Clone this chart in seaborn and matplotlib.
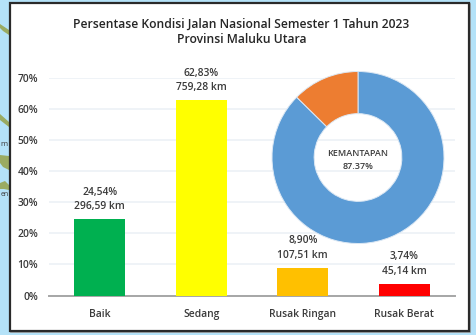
import matplotlib
matplotlib.use("Agg")
import matplotlib.pyplot as plt
from matplotlib.patches import Rectangle, Polygon
import seaborn as sns
import pandas as pd

categories = ["Baik", "Sedang", "Rusak Ringan", "Rusak Berat"]
percent = [24.54, 62.83, 8.90, 3.74]
percent_labels = ["24,54%", "62,83%", "8,90%", "3,74%"]
km_labels = ["296,59 km", "759,28 km", "107,51 km", "45,14 km"]
bar_colors = ["#00B050", "#FFFF00", "#FFC000", "#FF0000"]
donut_values = [87.37, 12.63]
donut_colors = ["#5B9BD5", "#ED7D31"]
donut_text = "KEMANTAPAN\n87.37%"
title = "Persentase Kondisi Jalan Nasional Semester 1 Tahun 2023\nProvinsi Maluku Utara"
yticks = [0, 10, 20, 30, 40, 50, 60, 70]

W, H = 476, 335
sns.set_theme(style="white")
plt.rcParams['font.family'] = ['Open Sans', 'DejaVu Sans']
TXT = "#3a3a3a"

fig = plt.figure(figsize=(W / 100, H / 100), dpi=100, facecolor="#B4E2F8")

# background map fragments at the left edge (pixel outlines of the decoration)
land = [
    [(0, 24), (9, 30), (9, 35), (3, 31), (0, 28)],
    [(0, 114), (9, 122), (9, 127), (0, 120)],
    [(0, 155), (9, 156), (9, 170), (3, 167), (0, 163)],
    [(0, 183), (5, 181), (9, 185), (9, 190), (4, 189), (0, 189)],
]
for pts in land:
    fig.add_artist(Polygon([(x / W, 1 - y / H) for x, y in pts], closed=True,
                           transform=fig.transFigure, facecolor="#9AAB62",
                           edgecolor="none", zorder=-3))
fig.text(0.6 / W, 1 - 144 / H, "m", ha="left", va="center", fontsize=5.5, color=TXT, zorder=-2)
fig.text(0.6 / W, 1 - 194 / H, "en", ha="left", va="center", fontsize=5, color=TXT, zorder=-2)

fig.add_artist(Rectangle((10.5 / W, 1 - 332 / H), 459 / W, 328 / H, transform=fig.transFigure,
                         facecolor="#8a8a8a", edgecolor="#9a9a9a", linewidth=1.2, zorder=-1.5))
fig.add_artist(Rectangle((9.5 / W, 1 - 331 / H), 459 / W, 328 / H, transform=fig.transFigure,
                         facecolor="white", edgecolor="#2a2a2a", linewidth=1.6, zorder=-1))
fig.text(241.5 / W, 1 - 32 / H, title, ha="center", va="center", fontsize=8.75,
         fontweight="semibold", color="#262626", linespacing=1.22)

ax = fig.add_axes([49 / W, 1 - 295.5 / H, 406 / W, 217.5 / H])
ax.patch.set_alpha(0)
df = pd.DataFrame({"cat": categories, "pct": percent})
sns.barplot(data=df, x="cat", y="pct", hue="cat", palette=bar_colors, order=categories,
            hue_order=categories, legend=False, width=0.5, saturation=1, linewidth=0,
            ax=ax, zorder=3)
ax.set_xlim(-0.5, 3.5)
ax.set_ylim(0, 70)
ax.set_yticks(yticks, [f"{v}%" for v in yticks])
ax.set_xlabel("")
ax.set_ylabel("")
ax.grid(axis="y", color="#EEF2F7", linewidth=1.3, zorder=0)
ax.set_axisbelow(True)
for s in ["top", "right", "left"]:
    ax.spines[s].set_visible(False)
ax.spines["bottom"].set_color("#A6A6A6")
ax.spines["bottom"].set_linewidth(1.4)
ax.tick_params(axis="both", length=0, labelsize=7.4, labelcolor=TXT)
ax.tick_params(axis="x", pad=9.5)
ax.tick_params(axis="y", pad=8)
for lab in ax.get_xticklabels() + ax.get_yticklabels():
    lab.set_fontweight("semibold")
for i, v in enumerate(percent):
    ax.annotate(f"{percent_labels[i]}\n{km_labels[i]}", (i, v), xytext=(0, 5),
                textcoords="offset points", ha="center", va="bottom", fontsize=7.4,
                fontweight="semibold", color=TXT, linespacing=1.45, zorder=5)

cx, cy, r = 358, 157.5, 86
pie = fig.add_axes([(cx - r) / W, 1 - (cy + r) / H, 2 * r / W, 2 * r / H])
pie.patch.set_alpha(0)
pie.pie(donut_values, colors=donut_colors, startangle=90, counterclock=False, radius=1,
        wedgeprops=dict(width=0.49, edgecolor="#DCE8F4", linewidth=0.7))
pie.set_xlim(-1, 1)
pie.set_ylim(-1, 1)
pie.text(0, -0.03, donut_text, ha="center", va="center", fontsize=6.5, fontweight="semibold",
         color=TXT, linespacing=1.55)

fig.savefig("out.png", dpi=100, facecolor=fig.get_facecolor())
